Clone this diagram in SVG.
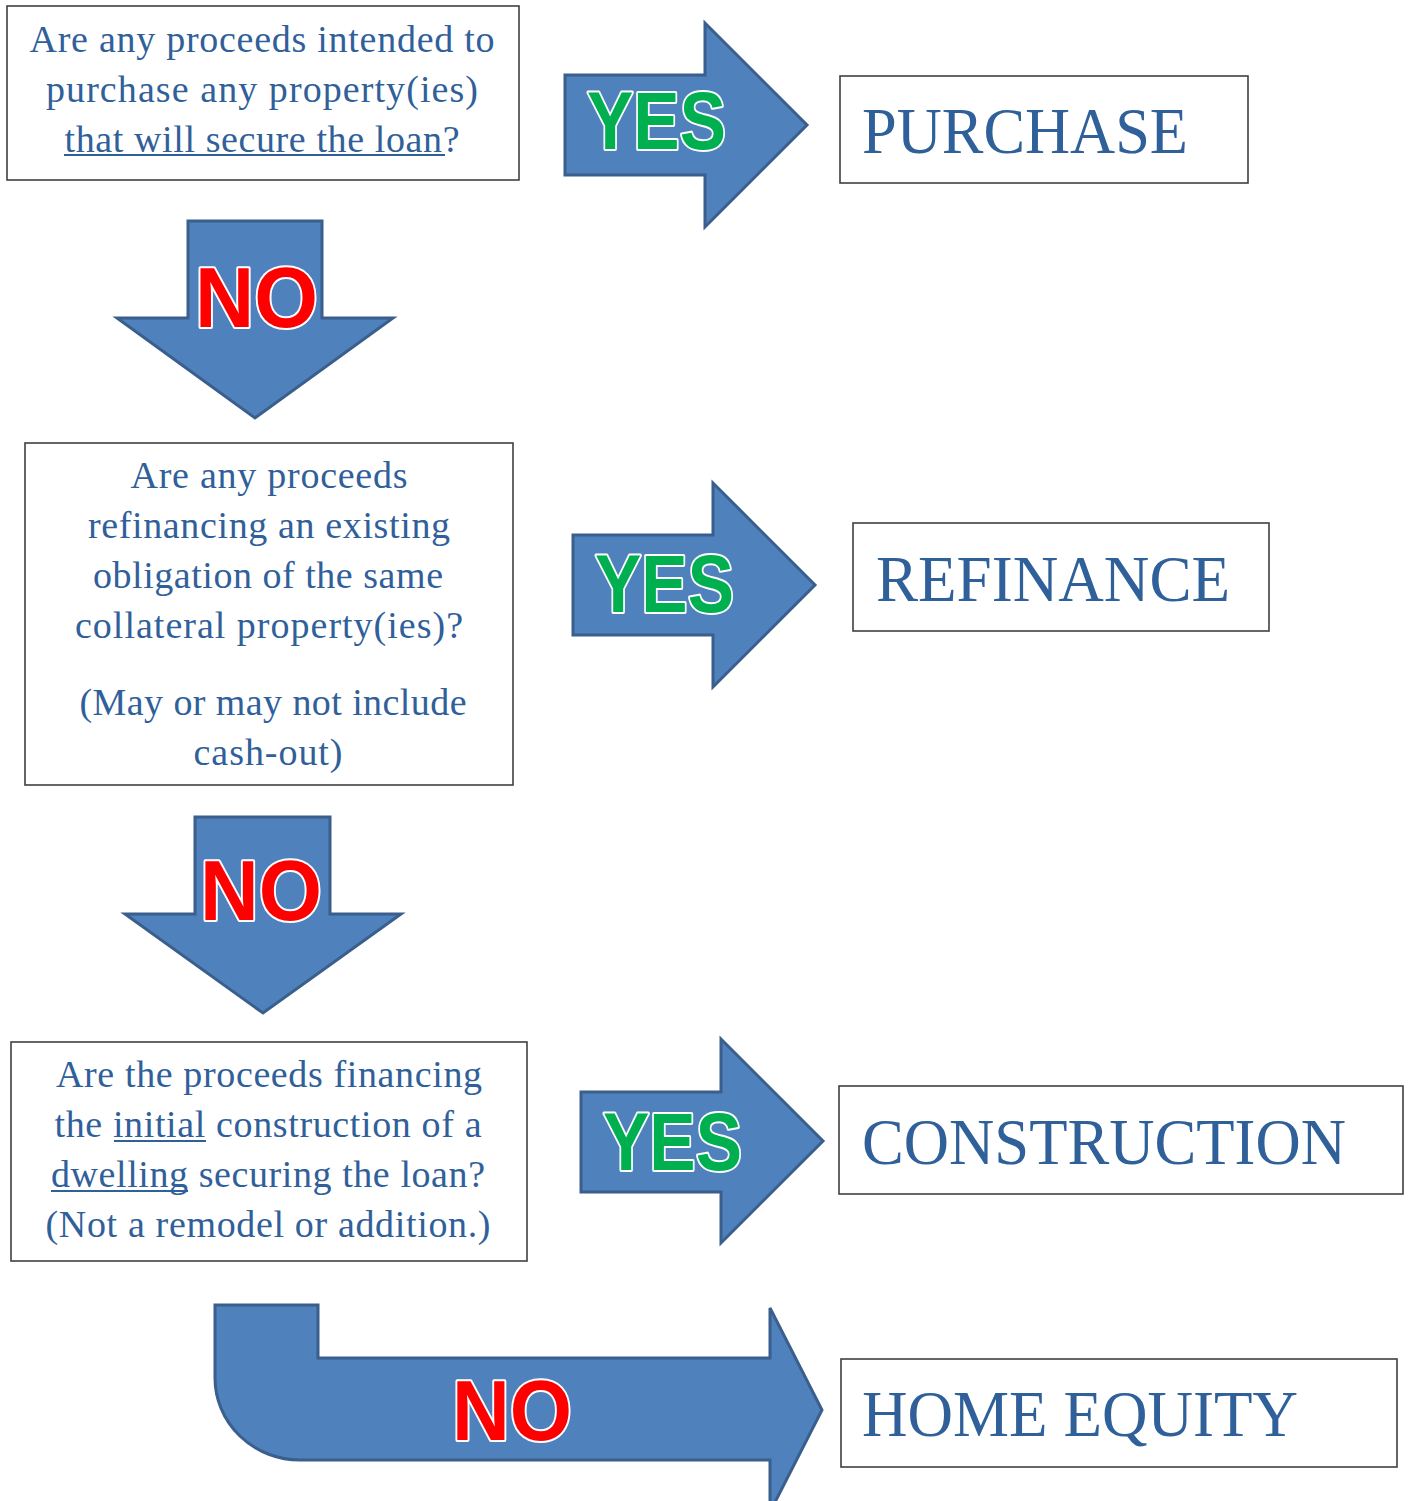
<svg xmlns="http://www.w3.org/2000/svg" width="1408" height="1501" viewBox="0 0 1408 1501">
  <style>
    .box { fill: #ffffff; stroke: #404040; stroke-width: 1.6; }
    .q { font-family: "Liberation Serif", "DejaVu Serif", serif; font-size: 38px; fill: #30609a; text-anchor: middle; }
    .out { font-family: "Liberation Serif", "DejaVu Serif", serif; font-size: 66px; fill: #30609a; }
    .ul { stroke: #30609a; stroke-width: 2; }
    .arrow { fill: #4f81bd; stroke: #3a5f8c; stroke-width: 3; stroke-linejoin: miter; }
    .yes { font-family: "Liberation Sans", Arimo, sans-serif; font-weight: 700; font-size: 82px; fill: #00b050; stroke: #ffffff; stroke-width: 4; paint-order: stroke; stroke-linejoin: round; }
    .no { font-family: "Liberation Sans", Arimo, sans-serif; font-weight: 700; font-size: 86px; fill: #ff0000; stroke: #ffffff; stroke-width: 4; paint-order: stroke; stroke-linejoin: round; }
  </style>

  <!-- Question 1 -->
  <g id="q-purchase">
    <rect class="box" x="7" y="6" width="512" height="174"/>
    <text class="q" x="262" y="52" textLength="465">Are any proceeds intended to</text>
    <text class="q" x="262" y="102" textLength="432">purchase any property(ies)</text>
    <text class="q" x="262" y="152" textLength="395">that will secure the loan?</text>
    <line class="ul" x1="64" y1="155" x2="445" y2="155"/>
  </g>

  <!-- Question 2 -->
  <g id="q-refinance">
    <rect class="box" x="25" y="443" width="488" height="342"/>
    <text class="q" x="269" y="488" textLength="277">Are any proceeds</text>
    <text class="q" x="269" y="538" textLength="362">refinancing an existing</text>
    <text class="q" x="268" y="588" textLength="350">obligation of the same</text>
    <text class="q" x="269" y="638" textLength="388">collateral property(ies)?</text>
    <text class="q" x="273" y="715" textLength="387">(May or may not include</text>
    <text class="q" x="268" y="765" textLength="149">cash-out)</text>
  </g>

  <!-- Question 3 -->
  <g id="q-construction">
    <rect class="box" x="11" y="1042" width="516" height="219"/>
    <text class="q" x="269" y="1087" textLength="426">Are the proceeds financing</text>
    <text class="q" x="268" y="1137" textLength="427">the initial construction of a</text>
    <text class="q" x="268" y="1187" textLength="434">dwelling securing the loan?</text>
    <text class="q" x="268" y="1237" textLength="445">(Not a remodel or addition.)</text>
    <line class="ul" x1="114" y1="1141" x2="206" y2="1141"/>
    <line class="ul" x1="51" y1="1191" x2="188" y2="1191"/>
  </g>

  <!-- Outcomes -->
  <g id="out-purchase">
    <rect class="box" x="840" y="76" width="408" height="107"/>
    <text class="out" x="862" y="153" textLength="326" lengthAdjust="spacingAndGlyphs">PURCHASE</text>
  </g>
  <g id="out-refinance">
    <rect class="box" x="853" y="523" width="416" height="108"/>
    <text class="out" x="876" y="601" textLength="354" lengthAdjust="spacingAndGlyphs">REFINANCE</text>
  </g>
  <g id="out-construction">
    <rect class="box" x="839" y="1086" width="564" height="108"/>
    <text class="out" x="862" y="1164" textLength="484" lengthAdjust="spacingAndGlyphs">CONSTRUCTION</text>
  </g>
  <g id="out-home-equity">
    <rect class="box" x="841" y="1359" width="556" height="108"/>
    <text class="out" x="862" y="1436" textLength="436" lengthAdjust="spacingAndGlyphs">HOME EQUITY</text>
  </g>

  <!-- Connectors: block arrows with their labels -->
  <g id="connectors">
    <g id="yes-1">
      <path class="arrow" d="M565,75 L705,75 L705,23 L807,125 L705,227 L705,175 L565,175 Z"/>
      <text class="yes" x="587" y="149" textLength="139" lengthAdjust="spacingAndGlyphs">YES</text>
    </g>
    <g id="no-1">
      <path class="arrow" d="M188,221 L322,221 L322,318 L393,318 L255,418 L117,318 L188,318 Z"/>
      <text class="no" x="195" y="327" textLength="123" lengthAdjust="spacingAndGlyphs">NO</text>
    </g>
    <g id="yes-2">
      <path class="arrow" d="M573,535 L713,535 L713,483 L815,585 L713,687 L713,635 L573,635 Z"/>
      <text class="yes" x="595" y="612" textLength="139" lengthAdjust="spacingAndGlyphs">YES</text>
    </g>
    <g id="no-2">
      <path class="arrow" d="M195,817 L330,817 L330,914 L401,914 L263,1013 L125,914 L195,914 Z"/>
      <text class="no" x="200" y="920" textLength="122" lengthAdjust="spacingAndGlyphs">NO</text>
    </g>
    <g id="yes-3">
      <path class="arrow" d="M581,1092 L721,1092 L721,1039 L823,1141 L721,1243 L721,1192 L581,1192 Z"/>
      <text class="yes" x="603" y="1170" textLength="139" lengthAdjust="spacingAndGlyphs">YES</text>
    </g>
    <g id="no-3">
      <path class="arrow" d="M215,1305 L318,1305 L318,1358 L770,1358 L770,1308 L822,1410 L770,1512 L770,1460 L300,1460 A85,82 0 0 1 215,1378 Z"/>
      <text class="no" x="452" y="1440" textLength="120" lengthAdjust="spacingAndGlyphs">NO</text>
    </g>
  </g>
</svg>
